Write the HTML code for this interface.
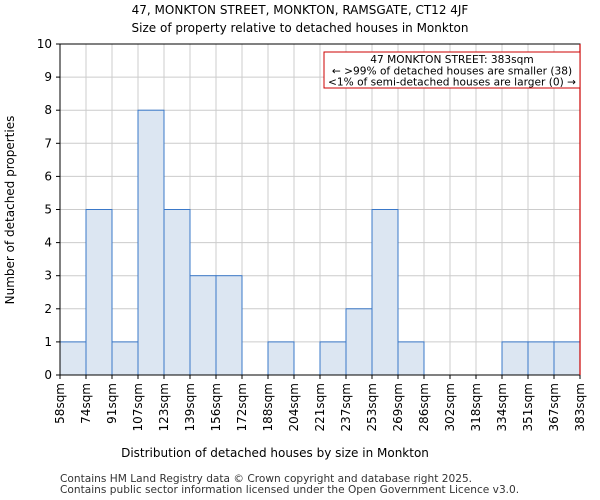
<!DOCTYPE html>
<html><head><meta charset="utf-8"><style>body{margin:0;background:#fff}svg{display:block;font-family:"DejaVu Sans","Liberation Sans",sans-serif}</style></head>
<body>
<svg width="600" height="500" viewBox="0 0 600 500">
<text x="300" y="14" font-size="12" text-anchor="middle">47, MONKTON STREET, MONKTON, RAMSGATE, CT12 4JF</text>
<text x="300" y="32" font-size="12" text-anchor="middle">Size of property relative to detached houses in Monkton</text>
<g id="grid"></g><g id="bars"></g><g id="axes"></g>
<text x="275" y="457" font-size="12" text-anchor="middle">Distribution of detached houses by size in Monkton</text>
<text transform="translate(14,210) rotate(-90)" font-size="12" text-anchor="middle">Number of detached properties</text>
<text x="60" y="482" font-size="10.6" fill="#333">Contains HM Land Registry data © Crown copyright and database right 2025.</text>
<text x="60" y="493" font-size="10.6" fill="#333">Contains public sector information licensed under the Open Government Licence v3.0.</text>
</svg>
<script>
const categories=["58sqm","74sqm","91sqm","107sqm","123sqm","139sqm","156sqm","172sqm","188sqm","204sqm","221sqm","237sqm","253sqm","269sqm","286sqm","302sqm","318sqm","334sqm","351sqm","367sqm","383sqm"];
const counts=[1,5,1,8,5,3,3,0,1,0,1,2,5,1,0,0,0,1,1,1];
const yTicks=[0,1,2,3,4,5,6,7,8,9,10];
const propertyIndex=20;
const NS="http://www.w3.org/2000/svg";
const X0=60,X1=580,Y0=375,Y1=44,nb=counts.length;
const xs=i=>X0+i*(X1-X0)/nb;
const ys=v=>Y0-v*(Y0-Y1)/10;
function mk(p,t,a){const e=document.createElementNS(NS,t);for(const k in a)e.setAttribute(k,a[k]);p.appendChild(e);return e;}
const grid=document.getElementById('grid'),bars=document.getElementById('bars'),axes=document.getElementById('axes');
yTicks.forEach(v=>{const l=mk(grid,'line',{x1:X0,x2:X1,y1:ys(v),y2:ys(v),stroke:'#ccc','stroke-width':1});


const t=mk(axes,'text',{x:X0-8,y:ys(v)+4,'font-size':12,'text-anchor':'end'});t.textContent=v;


mk(axes,'line',{x1:X0-4,x2:X0,y1:ys(v),y2:ys(v),stroke:'#000'});});
categories.forEach((c,i)=>{const x=xs(i);
const l=mk(grid,'line',{x1:x,x2:x,y1:Y1,y2:Y0,stroke:'#ccc','stroke-width':1});


mk(axes,'line',{x1:x,x2:x,y1:Y0,y2:Y0+4,stroke:'#000'});
const t=mk(axes,'text',{transform:`translate(${x+4},${Y0+8}) rotate(-90)`,'font-size':12,'text-anchor':'end'});t.textContent=c;

});
counts.forEach((v,i)=>{if(!v)return;const r=mk(bars,'rect',{x:xs(i),y:ys(v),width:xs(1)-xs(0),height:Y0-ys(v),fill:'#dce6f2',stroke:'#3a78c8','stroke-width':1});

});
mk(axes,'rect',{x:X0,y:Y1,width:X1-X0,height:Y0-Y1,fill:'none',stroke:'#000','stroke-width':1});
const pl=mk(axes,'line',{x1:xs(propertyIndex),x2:xs(propertyIndex),y1:Y1,y2:Y0,stroke:'#c00','stroke-width':1.2});


const g=mk(axes,'g',{});


mk(g,'rect',{x:324,y:52,width:256,height:36,fill:'#fff',stroke:'#c00','stroke-width':1});
[["47 MONKTON STREET: 383sqm",63],["← >99% of detached houses are smaller (38)",74.5],["<1% of semi-detached houses are larger (0) →",85.5]].forEach(([s,y])=>{const t=mk(g,'text',{x:452,y:y,'font-size':10.6,'text-anchor':'middle'});t.textContent=s;});
</script>
</body></html>
